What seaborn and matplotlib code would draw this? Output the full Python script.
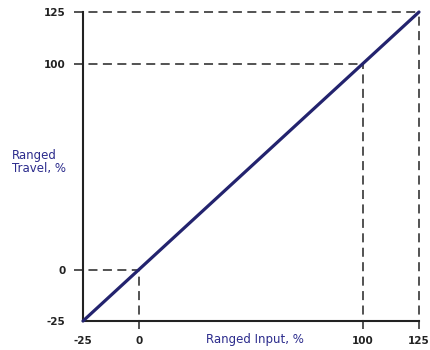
import numpy as np
import pandas as pd
import seaborn as sns
import matplotlib.pyplot as plt

# data
input_pct = [-25, 125]
travel_pct = [-25, 125]
ref_points = [0, 100, 125]
tick_values = [-25, 0, 100, 125]
tick_labels = ['-25', '0', '100', '125']

sns.set_style('white')
plt.rcParams['font.family'] = ['DejaVu Sans']

fig = plt.figure(figsize=(4.3, 3.5), dpi=100)
ax = fig.add_axes([83 / 430, 29 / 350, 336 / 430, 309 / 350])

df = pd.DataFrame({'Input': input_pct, 'Travel': travel_pct})
sns.lineplot(data=df, x='Input', y='Travel', color='#23236e', linewidth=2.3, ax=ax, clip_on=False, zorder=3)

for v in ref_points:
    ax.plot([-29, v], [v, v], color='#444444', linestyle=(0, (5, 3)), linewidth=1.3, clip_on=False)
    ax.plot([v, v], [-29, v], color='#444444', linestyle=(0, (5, 3)), linewidth=1.3, clip_on=False)

ax.set_xlim(-25, 125)
ax.set_ylim(-25, 125)
ax.set_xticks(tick_values)
ax.set_xticklabels(tick_labels)
ax.set_yticks(tick_values)
ax.set_yticklabels(tick_labels)
ax.tick_params(axis='both', direction='inout', length=9, width=1.2, color='#222222',
               labelsize=7.5, labelcolor='#222222')
ax.tick_params(axis='y', pad=8)
ax.tick_params(axis='x', pad=6)
for lab in ax.get_xticklabels() + ax.get_yticklabels():
    lab.set_fontweight('bold')

sns.despine(ax=ax)
for s in ['left', 'bottom']:
    ax.spines[s].set_color('#222222')
    ax.spines[s].set_linewidth(1.5)
ax.set_xlabel('')
ax.set_ylabel('')

fig.text(255 / 430, 1 - 340 / 350, 'Ranged Input, %', color='#2b2b8c', fontsize=8.5,
         ha='center', va='center')
fig.text(12 / 430, 1 - 162 / 350, 'Ranged\nTravel, %', color='#2b2b8c', fontsize=8.5,
         ha='left', va='center', linespacing=1.0)

fig.savefig('out.png', dpi=100)
